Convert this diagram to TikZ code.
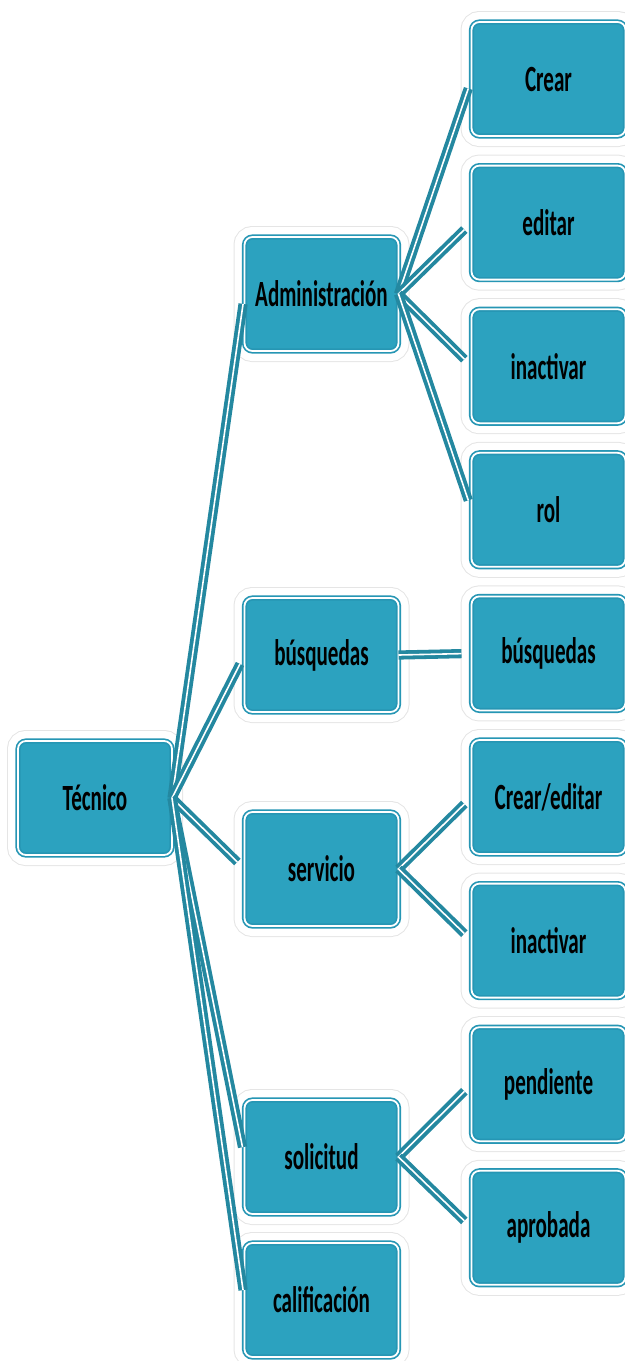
\documentclass[tikz,border=0pt]{standalone}
\usepackage{fontspec}
\setmainfont{Carlito}[FakeStretch=0.57]
\usetikzlibrary{positioning, backgrounds}
\definecolor{boxfill}{RGB}{44,162,191}
\definecolor{boxedge}{RGB}{38,150,180}
\definecolor{linkcol}{RGB}{36,136,160}

\begin{document}
\begin{tikzpicture}[
  x=0.5pt, y=-0.5pt,
  font=\fontsize{18.5}{21}\selectfont\bfseries,
  menubox/.style={draw=boxedge, line width=2.6pt, fill=boxfill,
                  rounded corners=4pt, minimum width=77pt, minimum height=57pt,
                  inner sep=2pt, outer sep=0pt, align=center,
                  preaction={draw=gray!20, line width=11pt},
                  preaction={draw=white, line width=10pt},
                  postaction={draw=white, line width=0.9pt}},
  link/.style={draw=linkcol, double=white, double distance=0.8pt, line width=1.9pt,
               shorten >=5pt},
  node distance=14.8pt
]
\useasboundingbox (0,0) rectangle (625,1361);
\clip (0,0) rectangle (625,1361);

% root
\node[menubox] (tec) at (95,798) {Técnico};

% second level
\node[menubox] (adm)  at (321.5,294)  {Administración};
\node[menubox] (bus)  at (321.5,655)  {búsquedas};
\node[menubox] (serv) at (321.5,869)  {servicio};
\node[menubox] (sol)  at (321.5,1157) {solicitud};
\node[menubox] (cal)  at (321.5,1300) {calificación};

% third level
\node[menubox] (crear) at (548.5,79) {Crear};
\node[menubox, below=of crear] (editar) {editar};
\node[menubox, below=of editar] (inact) {inactivar};
\node[menubox, below=of inact] (rol) {rol};
\node[menubox, below=of rol] (busq) {búsquedas};
\node[menubox, below=of busq] (creared) {Crear/editar};
\node[menubox, below=of creared] (inactserv) {inactivar};
\node[menubox, below=of inactserv] (pend) {pendiente};
\node[menubox, below=of pend] (aprob) {aprobada};

% links
\foreach \child in {adm, bus, serv, sol, cal}
  \draw[link] (tec.east) -- (\child.west);
\foreach \child in {crear, editar, inact, rol}
  \draw[link] (adm.east) -- (\child.west);
\draw[link] (bus.east) -- (busq.west);
\foreach \child in {creared, inactserv}
  \draw[link] (serv.east) -- (\child.west);
\foreach \child in {pend, aprob}
  \draw[link] (sol.east) -- (\child.west);

\end{tikzpicture}
\end{document}
